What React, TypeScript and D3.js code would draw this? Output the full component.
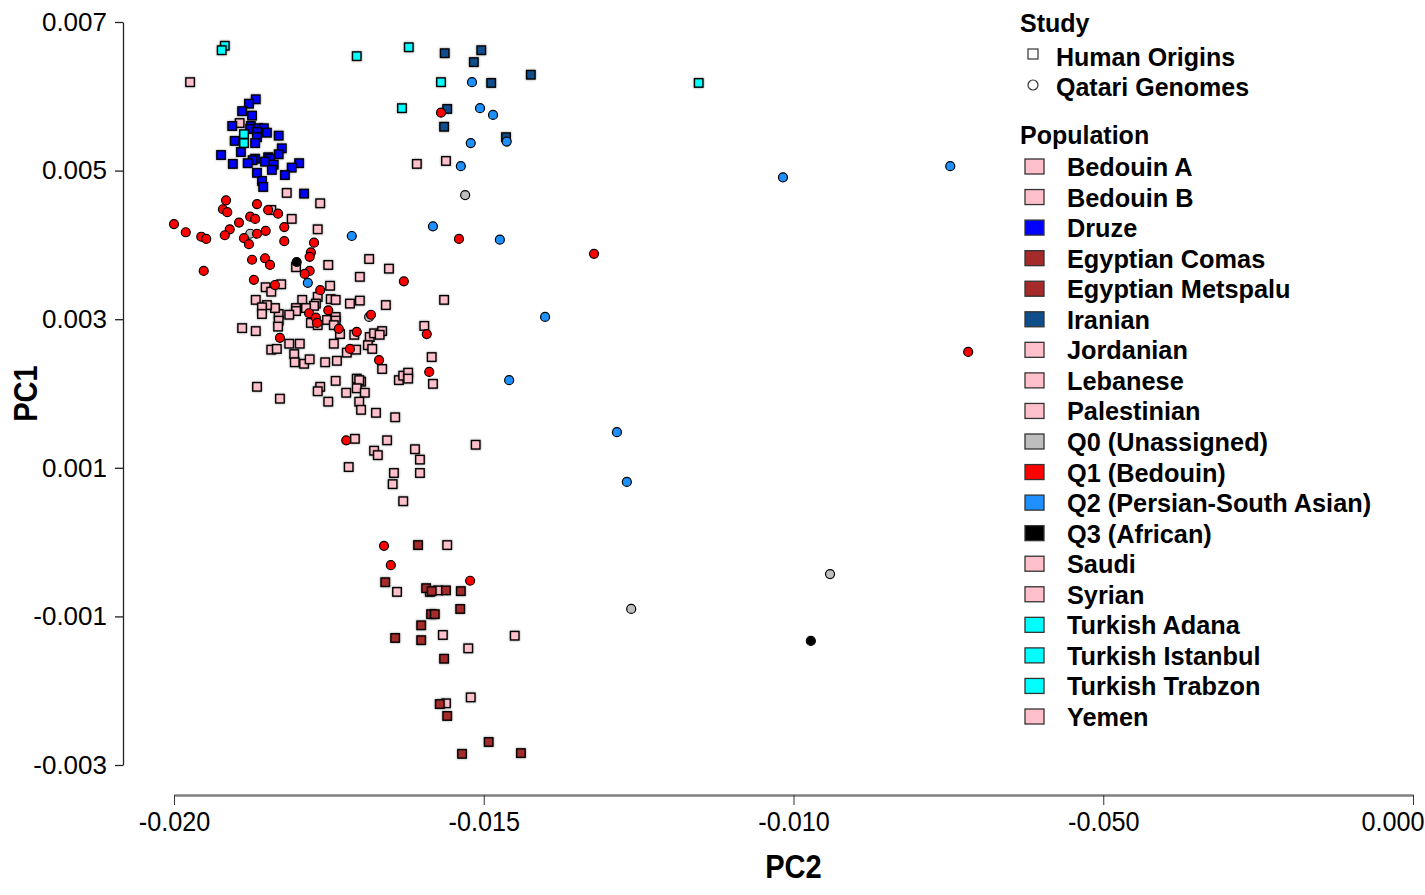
import React, { useRef, useEffect } from "react";
import * as d3 from "d3";

const width = 1425;
const height = 895;
const plot = { left: 174, right: 1413, top: 22, bottom: 765 };
const yAxisX = 123;
const xAxisY = 795;

// axis ticks (the reference labels -0.005 as "-0.050")
const xTicks = [-0.02, -0.015, -0.01, -0.005, 0];
const xTickLabels = ["-0.020", "-0.015", "-0.010", "-0.050", "0.000"];
const yTicks = [0.007, 0.005, 0.003, 0.001, -0.001, -0.003];
const yTickLabels = ["0.007", "0.005", "0.003", "0.001", "-0.001", "-0.003"];

const populations = [
    "Bedouin A", "Bedouin B", "Druze", "Egyptian Comas", "Egyptian Metspalu",
    "Iranian", "Jordanian", "Lebanese", "Palestinian", "Q0 (Unassigned)",
    "Q1 (Bedouin)", "Q2 (Persian-South Asian)", "Q3 (African)", "Saudi",
    "Syrian", "Turkish Adana", "Turkish Istanbul", "Turkish Trabzon", "Yemen",
];
const popColors = [
    "#ffc0cb", "#ffc0cb", "#0000ff", "#a52a2a", "#a52a2a",
    "#104e8b", "#ffc0cb", "#ffc0cb", "#ffc0cb", "#bebebe",
    "#ff0000", "#1e90ff", "#000000", "#ffc0cb",
    "#ffc0cb", "#00ffff", "#00ffff", "#00ffff", "#ffc0cb",
];

// Human Origins – Arabian / Levantine samples (all drawn pink)
const levantPC2 = [
    -0.01974, -0.01894, -0.01818, -0.01764, -0.01843, -0.0181, -0.01768, -0.01608, -0.01561, -0.01685,
    -0.01653, -0.017, -0.01751, -0.01748, -0.01803, -0.01827, -0.01852, -0.01843, -0.01564, -0.01658,
    -0.017, -0.01716, -0.01747, -0.01739, -0.01768, -0.01771, -0.01774, -0.01793, -0.01787, -0.01803,
    -0.01803, -0.01814, -0.01831, -0.01837, -0.0185, -0.01868, -0.01858, -0.01858, -0.01831, -0.01832,
    -0.0189, -0.01868, -0.01779, -0.01768, -0.01753, -0.01739, -0.01739, -0.01742, -0.01732, -0.01709,
    -0.01684, -0.01677, -0.01664, -0.01668, -0.01596, -0.01687, -0.0168, -0.01742, -0.01797, -0.01814,
    -0.01843, -0.01834, -0.01806, -0.01805, -0.0179, -0.01781, -0.01756, -0.01737, -0.01721, -0.01706,
    -0.01664, -0.01584, -0.01582, -0.01637, -0.0163, -0.01622, -0.01622, -0.01739, -0.01705, -0.01698,
    -0.01701, -0.01705, -0.01692, -0.01722, -0.01764, -0.01768, -0.01751, -0.01701, -0.01698, -0.01674,
    -0.01643, -0.01866, -0.01829, -0.01708, -0.01656, -0.01513, -0.01611, -0.01603, -0.01677, -0.01671,
    -0.01718, -0.01645, -0.01603, -0.01647, -0.0163, -0.01559, -0.0164, -0.01587, -0.01574, -0.01566,
    -0.0145, -0.01525, -0.01561, -0.01521,
];
const levantPC1 = [
    0.00619, 0.00564, 0.0047, 0.00456, 0.00447, 0.00435, 0.00421, 0.00509, 0.00513, 0.00381,
    0.00368, 0.00357, 0.00373, 0.00345, 0.0037, 0.00347, 0.00343, 0.00337, 0.00326, 0.00319,
    0.00325, 0.00321, 0.00327, 0.00326, 0.0033, 0.00321, 0.00318, 0.00326, 0.00315, 0.00315,
    0.00311, 0.00306, 0.00307, 0.00315, 0.00319, 0.00326, 0.00316, 0.00307, 0.00298, 0.0029,
    0.00288, 0.00284, 0.00295, 0.00292, 0.00299, 0.00303, 0.00298, 0.00292, 0.0028, 0.00279,
    0.00276, 0.00281, 0.00284, 0.00279, 0.00291, 0.00265, 0.0026, 0.00267, 0.00267, 0.00267,
    0.00259, 0.0026, 0.00253, 0.00242, 0.0024, 0.00246, 0.00242, 0.00244, 0.00255, 0.00259,
    0.00233, 0.00249, 0.00213, 0.00218, 0.00224, 0.00228, 0.0022, 0.00217, 0.0022, 0.00216,
    0.00218, 0.00207, 0.00201, 0.00201, 0.00209, 0.00203, 0.00189, 0.00189, 0.00178, 0.00174,
    0.00168, 0.00209, 0.00193, 0.00139, 0.00137, 0.00131, 0.00125, 0.00111, 0.00123, 0.00117,
    0.00101, 0.00093, 0.00093, 0.00078, 0.00055, -0.00004, -0.00067, -0.00067, -0.00065, -0.00125,
    -0.00126, -0.00143, -0.00217, -0.00209,
];

const druzePC2 = [
    -0.01868, -0.01879, -0.0189, -0.01874, -0.01906, -0.01876, -0.01877, -0.01864, -0.01855, -0.01866,
    -0.0185, -0.01831, -0.01866, -0.01902, -0.01869, -0.01826, -0.01892, -0.01924, -0.01831, -0.01869,
    -0.01873, -0.01848, -0.01845, -0.01853, -0.01839, -0.01881, -0.01905, -0.01842, -0.01798, -0.0181,
    -0.01821, -0.01866, -0.01858, -0.01856, -0.0179,
];
const druzePC1 = [
    0.00596, 0.0059, 0.0058, 0.00574, 0.0056, 0.0056, 0.00556, 0.00557, 0.00557, 0.00552,
    0.00551, 0.00547, 0.00545, 0.0054, 0.00537, 0.0053, 0.00525, 0.00521, 0.00522, 0.00516,
    0.00514, 0.00518, 0.00516, 0.00512, 0.00508, 0.0051, 0.00509, 0.00501, 0.0051, 0.00504,
    0.00494, 0.00497, 0.00486, 0.00478, 0.00469,
];

const egyptianPC2 = [
    -0.01606, -0.01659, -0.01593, -0.01584, -0.01561, -0.01537, -0.01538, -0.01585, -0.01579,
    -0.01601, -0.01643, -0.01601, -0.01564, -0.01571, -0.01559, -0.01492, -0.01535, -0.0144,
];
const egyptianPC1 = [
    -0.00004, -0.00054, -0.00062, -0.00066, -0.00065, -0.00066, -0.0009, -0.00097, -0.00097,
    -0.00112, -0.00129, -0.00132, -0.00157, -0.00218, -0.00234, -0.00269, -0.00285, -0.00284,
];

const iranianPC2 = [-0.01563, -0.01504, -0.01516, -0.01488, -0.01424, -0.01559, -0.01564, -0.01464];
const iranianPC1 = [0.00658, 0.00662, 0.00646, 0.00618, 0.00629, 0.00583, 0.00559, 0.00545];

const turkishPC2 = [-0.01918, -0.01923, -0.01705, -0.01621, -0.01569, -0.01632, -0.01153, -0.01887, -0.01887];
const turkishPC1 = [0.00668, 0.00662, 0.00654, 0.00666, 0.00619, 0.00584, 0.00618, 0.00549, 0.00537];

// Qatari genomes
const q0PC2 = [-0.01877, -0.01685, -0.0153, -0.00941, -0.01262];
const q0PC1 = [0.00415, 0.00303, 0.00467, -0.00043, -0.0009];

const q1PC2 = [
    -0.01569, -0.0154, -0.01322, -0.00718, -0.01661, -0.0165, -0.01522, -0.01916, -0.01866, -0.01921,
    -0.01914, -0.01848, -0.01832, -0.01877, -0.01869, -0.01895, -0.02, -0.0191, -0.01822, -0.01981,
    -0.01918, -0.01866, -0.01852, -0.01956, -0.01948, -0.01887, -0.01879, -0.01822, -0.01774, -0.01779,
    -0.01781, -0.01874, -0.01853, -0.01845, -0.01952, -0.01781, -0.01789, -0.01871, -0.01837, -0.01629,
    -0.01764, -0.01751, -0.01782, -0.01771, -0.01769, -0.01682, -0.01734, -0.01705, -0.01592, -0.01829,
    -0.01716, -0.01669, -0.01588, -0.01722,
];
const q1PC1 = [
    0.00578, 0.00408, 0.00388, 0.00256, -0.00005, -0.00031, -0.00052, 0.0046, 0.00455, 0.00448,
    0.00444, 0.00447, 0.00442, 0.00438, 0.00435, 0.0043, 0.00428, 0.00421, 0.00424, 0.00417,
    0.00413, 0.00415, 0.00419, 0.00411, 0.00408, 0.00409, 0.00401, 0.00405, 0.00403, 0.0039,
    0.00384, 0.0038, 0.00382, 0.00373, 0.00365, 0.00365, 0.00361, 0.00353, 0.00346, 0.00351,
    0.00339, 0.00312, 0.00308, 0.00302, 0.00295, 0.00306, 0.00287, 0.00283, 0.0028, 0.00275,
    0.0026, 0.00245, 0.00229, 0.00137,
];

const q2PC2 = [
    -0.01519, -0.01506, -0.01485, -0.01521, -0.01463, -0.01537, -0.01582, -0.01713,
    -0.01474, -0.01784, -0.00747, -0.01017, -0.01401, -0.01459, -0.01285, -0.01269,
];
const q2PC1 = [
    0.00619, 0.00584, 0.00575, 0.00537, 0.00539, 0.00506, 0.00425, 0.00412,
    0.00407, 0.00349, 0.00506, 0.00491, 0.00303, 0.00218, 0.00148, 0.00081,
];

const q3PC2 = [-0.01802, -0.00972];
const q3PC1 = [0.00377, -0.00133];

const groups = [
    { shape: "square", color: "#ffc0cb", pc2: levantPC2, pc1: levantPC1 },
    { shape: "square", color: "#0000ff", pc2: druzePC2, pc1: druzePC1 },
    { shape: "square", color: "#a52a2a", pc2: egyptianPC2, pc1: egyptianPC1 },
    { shape: "square", color: "#104e8b", pc2: iranianPC2, pc1: iranianPC1 },
    { shape: "square", color: "#00ffff", pc2: turkishPC2, pc1: turkishPC1 },
    { shape: "circle", color: "#bebebe", pc2: q0PC2, pc1: q0PC1 },
    { shape: "circle", color: "#ff0000", pc2: q1PC2, pc1: q1PC1 },
    { shape: "circle", color: "#1e90ff", pc2: q2PC2, pc1: q2PC1 },
    { shape: "circle", color: "#000000", pc2: q3PC2, pc1: q3PC1 },
];

const font = "Liberation Sans, Arial, sans-serif";

const PcaChart = () => {
    const svgRef = useRef(null);

    useEffect(() => {
        const svg = d3.select(svgRef.current);
        svg.selectAll("*").remove();

        const x = d3.scaleLinear().domain([-0.02, 0]).range([plot.left, plot.right]);
        const y = d3.scaleLinear().domain([-0.003, 0.007]).range([plot.bottom, plot.top]);

        // y axis
        const yAxis = d3
            .axisLeft(y)
            .tickValues(yTicks)
            .tickFormat((d, i) => yTickLabels[i])
            .tickSize(8)
            .tickSizeOuter(0)
            .tickPadding(8);
        const gy = svg.append("g").attr("transform", `translate(${yAxisX},0)`).call(yAxis);
        gy.select(".domain").attr("stroke", "#222").attr("stroke-width", 1.3);
        gy.selectAll(".tick line").attr("stroke", "#222").attr("stroke-width", 1.3);
        gy.selectAll("text")
            .attr("font-family", font)
            .attr("font-size", 26)
            .attr("fill", "#000");

        // x axis
        const xAxis = d3
            .axisBottom(x)
            .tickValues(xTicks)
            .tickFormat((d, i) => xTickLabels[i])
            .tickSize(10)
            .tickSizeOuter(0)
            .tickPadding(6);
        const gx = svg.append("g").attr("transform", `translate(0,${xAxisY})`).call(xAxis);
        gx.select(".domain").attr("stroke", "#808080").attr("stroke-width", 2.5);
        gx.selectAll(".tick line").attr("stroke", "#333").attr("stroke-width", 1);
        gx.selectAll(".tick text").each(function (d, i) {
            const last = i === xTicks.length - 1;
            d3.select(this)
                .attr("font-family", font)
                .attr("font-size", 28)
                .attr("fill", "#000")
                .attr("dy", "0.71em")
                .attr("text-anchor", last ? "end" : "middle")
                .attr("transform", `translate(${last ? 11 : 0},0) scale(0.9,1)`);
        });

        // axis titles
        svg.append("text")
            .attr("transform", `translate(${(plot.left + plot.right) / 2},878) scale(0.88,1)`)
            .attr("text-anchor", "middle")
            .attr("font-family", font)
            .attr("font-weight", "bold")
            .attr("font-size", 33)
            .text("PC2");
        svg.append("text")
            .attr("transform", `translate(37,${(plot.top + plot.bottom) / 2}) rotate(-90) scale(0.88,1)`)
            .attr("text-anchor", "middle")
            .attr("font-family", font)
            .attr("font-weight", "bold")
            .attr("font-size", 33)
            .text("PC1");

        // points
        const pts = svg.append("g");
        groups.forEach((g) => {
            const data = g.pc2.map((v, i) => [v, g.pc1[i]]);
            if (g.shape === "square") {
                pts.append("g")
                    .selectAll("rect")
                    .data(data)
                    .join("rect")
                    .attr("x", (d) => x(d[0]) - 4.25)
                    .attr("y", (d) => y(d[1]) - 4.25)
                    .attr("width", 8.5)
                    .attr("height", 8.5)
                    .attr("fill", g.color)
                    .attr("stroke", "#000")
                    .attr("stroke-width", 1.4)
                    .style("filter", "drop-shadow(0 0 0.8px rgba(0,0,0,0.45))");
            } else {
                pts.append("g")
                    .selectAll("circle")
                    .data(data)
                    .join("circle")
                    .attr("cx", (d) => x(d[0]))
                    .attr("cy", (d) => y(d[1]))
                    .attr("r", 4.5)
                    .attr("fill", g.color)
                    .attr("stroke", "#000")
                    .attr("stroke-width", 1.2);
            }
        });

        // legend
        const lg = svg.append("g").attr("font-family", font).attr("font-weight", "bold");
        lg.append("text").attr("x", 1020).attr("y", 32).attr("font-size", 25).text("Study");
        lg.append("rect")
            .attr("x", 1028).attr("y", 49).attr("width", 10).attr("height", 10)
            .attr("fill", "#fff").attr("stroke", "#333").attr("stroke-width", 1.2);
        lg.append("text").attr("x", 1056).attr("y", 66).attr("font-size", 25).text("Human Origins");
        lg.append("circle")
            .attr("cx", 1033).attr("cy", 85).attr("r", 5)
            .attr("fill", "#fff").attr("stroke", "#333").attr("stroke-width", 1.2);
        lg.append("text").attr("x", 1056).attr("y", 96).attr("font-size", 25).text("Qatari Genomes");
        lg.append("text").attr("x", 1020).attr("y", 144).attr("font-size", 25).text("Population");

        const rowY = d3.scaleLinear().domain([0, populations.length - 1]).range([167, 717]);
        const rows = lg.selectAll("g.row").data(populations).join("g").attr("class", "row");
        rows.append("rect")
            .attr("x", 1025)
            .attr("y", (d, i) => rowY(i) - 8)
            .attr("width", 19)
            .attr("height", 15)
            .attr("fill", (d, i) => popColors[i])
            .attr("stroke", "#333")
            .attr("stroke-width", 1.3);
        rows.append("text")
            .attr("x", 1067)
            .attr("y", (d, i) => rowY(i) + 9)
            .attr("font-size", 25.3)
            .text((d) => d);
    }, []);

    return <svg ref={svgRef} width={width} height={height} style={{ display: "block" }} />;
};

export default function App() {
    useEffect(() => {
        document.body.style.margin = "0";
        document.body.style.background = "#fff";
    }, []);
    return <PcaChart />;
}
